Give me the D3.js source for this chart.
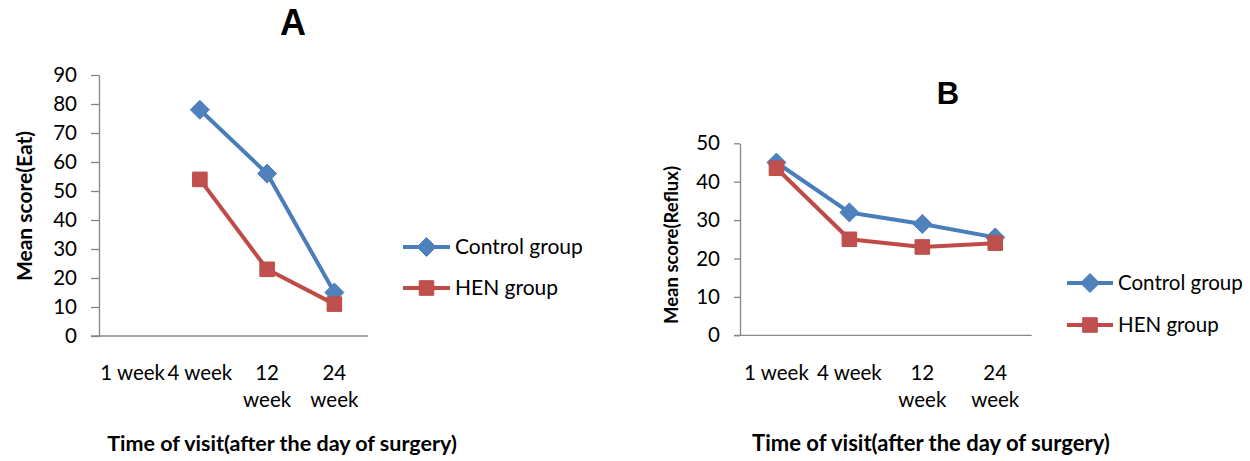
<!DOCTYPE html>
<html>
<head>
<meta charset="utf-8">
<script src="https://cdn.jsdelivr.net/npm/d3@7"></script>
<style>
  html, body { margin: 0; padding: 0; background: #fff; }
  svg { display: block; }
  text { font-family: Lato, "Open Sans", sans-serif; fill: #000; }
</style>
</head>
<body>
<svg id="chart" width="1250" height="461"></svg>
<script>
// ---------- data ----------
const categories = ["1 week", "4 week", "12 week", "24 week"];
const categoryLabelLines = [["1 week"], ["4 week"], ["12", "week"], ["24", "week"]];
const seriesNames = ["Control group", "HEN group"];

const eatControl = [null, 78, 56, 15];
const eatHEN = [null, 54, 23, 11];
const eatTicks = [0, 10, 20, 30, 40, 50, 60, 70, 80, 90];

const refluxControl = [45, 32, 29, 25.5];
const refluxHEN = [43.5, 25, 23, 24];
const refluxTicks = [0, 10, 20, 30, 40, 50];

const titleA = "A", titleB = "B";
const yTitleA = "Mean score(Eat)", yTitleB = "Mean score(Reflux)";
const xTitle = "Time of visit(after the day of surgery)";

// ---------- styles ----------
const lineColors = ["#4A7EBB", "#BE4B48"];
const markerFills = ["#4F81BD", "#C0504D"];
const axisColor = "#868686";

const svg = d3.select("#chart");

function panel(cfg) {
  const g = svg.append("g");
  const x = d3.scaleBand().domain(categories).range(cfg.xRange).padding(0);
  const y = d3.scaleLinear().domain([0, d3.max(cfg.ticks)]).range(cfg.yRange);

  // y axis
  const yAxis = d3.axisLeft(y).tickValues(cfg.ticks).tickSize(cfg.tickLen).tickSizeOuter(0).tickPadding(cfg.tickPad);
  const ya = g.append("g").attr("transform", `translate(${cfg.xRange[0]},0)`).call(yAxis);
  ya.select(".domain").attr("stroke", axisColor).attr("stroke-width", 1.3);
  ya.selectAll(".tick line").attr("stroke", axisColor).attr("stroke-width", 1.3);
  ya.selectAll(".tick text").style("font-size", "20.5px").style("font-family", "Lato").attr("fill", "#000");

  // x axis line
  g.append("line")
    .attr("x1", cfg.xRange[0] - cfg.tickLen).attr("x2", cfg.xRange[1])
    .attr("y1", y(0)).attr("y2", y(0))
    .attr("stroke", axisColor).attr("stroke-width", 1.3);

  // x category labels
  const xl = g.append("g").selectAll("text").data(categories).join("text")
    .attr("text-anchor", "middle")
    .style("font-size", "20.5px")
    .attr("transform", d => `translate(${x(d) + x.bandwidth() / 2},${cfg.labelY})`);
  xl.each(function (d, i) {
    d3.select(this).selectAll("tspan").data(categoryLabelLines[i]).join("tspan")
      .attr("x", 0).attr("y", (t, j) => j * 27).text(t => t);
  });

  // series
  const series = [cfg.control, cfg.hen];
  const line = d3.line()
    .defined(d => d != null)
    .x((d, i) => x(categories[i]) + x.bandwidth() / 2)
    .y(d => y(d));
  const diamond = d3.symbol(d3.symbolDiamond2, 230)();
  const square = d3.symbol(d3.symbolSquare2, 270)();
  series.forEach((vals, si) => {
    g.append("path").datum(vals)
      .attr("fill", "none").attr("stroke", lineColors[si]).attr("stroke-width", 4)
      .attr("stroke-linejoin", "round")
      .attr("d", line);
    const pts = vals.map((v, i) => ({ v, c: categories[i] })).filter(p => p.v != null);
    g.append("g").selectAll("path").data(pts).join("path")
      .attr("transform", p => `translate(${x(p.c) + x.bandwidth() / 2},${y(p.v)})`)
      .attr("d", si === 0 ? diamond : square)
      .attr("fill", markerFills[si]).attr("stroke", lineColors[si]).attr("stroke-width", 1);
  });

  // legend
  seriesNames.forEach((name, si) => {
    const ly = cfg.legendY[si];
    const lg = g.append("g");
    lg.append("line").attr("x1", cfg.legendX[0]).attr("x2", cfg.legendX[1])
      .attr("y1", ly).attr("y2", ly).attr("stroke", lineColors[si]).attr("stroke-width", 4);
    lg.append("path")
      .attr("transform", `translate(${(cfg.legendX[0] + cfg.legendX[1]) / 2},${ly})`)
      .attr("d", si === 0 ? diamond : square)
      .attr("fill", markerFills[si]).attr("stroke", lineColors[si]).attr("stroke-width", 1);
    lg.append("text").attr("x", cfg.legendX[1] + 5).attr("y", ly).attr("dy", "0.35em")
      .style("font-size", cfg.legendSize + "px").text(name);
  });

  // titles
  g.append("text").attr("x", cfg.titlePos[0]).attr("y", cfg.titlePos[1])
    .attr("text-anchor", "middle").style("font-family", "'Liberation Sans', Arial, sans-serif")
    .style("font-weight", "bold").style("font-size", cfg.titleSize + "px").text(cfg.title);

  g.append("text")
    .attr("transform", `translate(${cfg.yTitlePos[0]},${cfg.yTitlePos[1]}) rotate(-90)`)
    .attr("text-anchor", "middle").attr("dy", "0.35em")
    .style("font-weight", "bold").style("font-size", cfg.yTitleSize + "px").text(cfg.yTitle);

  g.append("text").attr("x", cfg.xTitlePos[0]).attr("y", cfg.xTitlePos[1])
    .attr("text-anchor", "middle")
    .style("font-weight", "bold").style("font-size", cfg.xTitleSize + "px").text(xTitle);
}

panel({
  xRange: [99, 368], yRange: [336, 75], ticks: eatTicks, tickLen: 8, tickPad: 14,
  control: eatControl, hen: eatHEN, labelY: 380,
  legendX: [403, 450], legendY: [247, 288], legendSize: 21,
  title: titleA, titlePos: [293, 35], titleSize: 36,
  yTitle: yTitleA, yTitlePos: [25, 206], yTitleSize: 21,
  xTitlePos: [282, 451], xTitleSize: 21.5
});

panel({
  xRange: [740, 1031.7], yRange: [335.3, 143.3], ticks: refluxTicks, tickLen: 6, tickPad: 14,
  control: refluxControl, hen: refluxHEN, labelY: 380,
  legendX: [1067, 1113], legendY: [283, 325], legendSize: 20.5,
  title: titleB, titlePos: [948, 104], titleSize: 31,
  yTitle: yTitleB, yTitlePos: [672, 245], yTitleSize: 18.5,
  xTitlePos: [931, 451], xTitleSize: 22
});
</script>
</body>
</html>
